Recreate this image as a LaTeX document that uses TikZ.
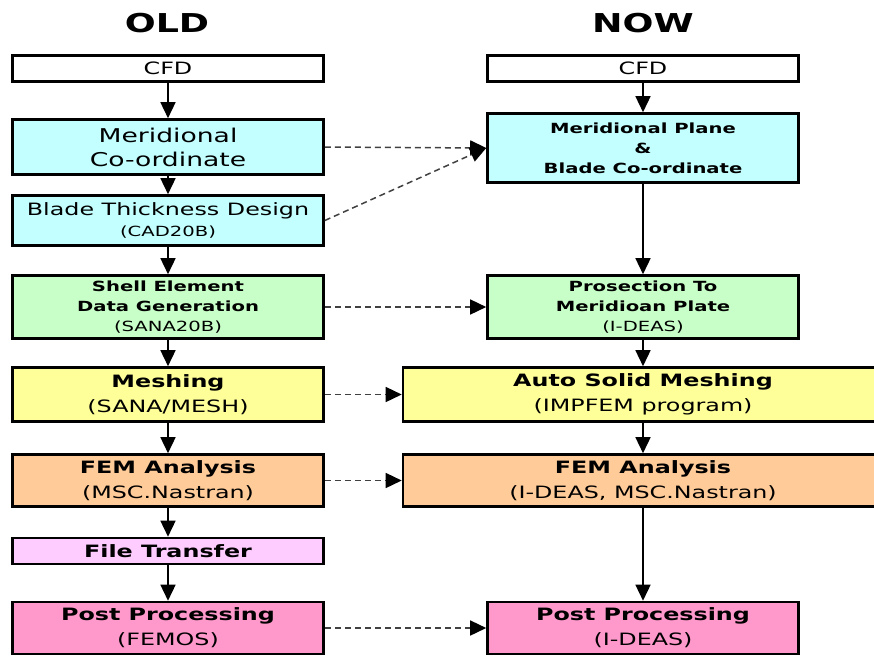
\documentclass[tikz,border=0pt]{standalone}
\usepackage{fontspec}
\setmainfont{DejaVu Sans}[FakeStretch=1.4]
\usepackage{xcolor}
\usetikzlibrary{arrows.meta}
\definecolor{cyanfill}{HTML}{C4FFFF}
\definecolor{greenfill}{HTML}{C8FFC8}
\definecolor{yellowfill}{HTML}{FFFF99}
\definecolor{orangefill}{HTML}{FFCC99}
\definecolor{lilacfill}{HTML}{FFCCFF}
\definecolor{pinkfill}{HTML}{FF99CC}
\begin{document}
\begin{tikzpicture}[x=1pt,y=-1pt]
\useasboundingbox (0,0) rectangle (874,656);
\clip (0,0) rectangle (874,656);
\tikzstyle{box}=[draw,line width=2.6pt,inner sep=0pt,align=center,minimum width=311pt];
\tikzstyle{widebox}=[box,minimum width=480pt];
\tikzstyle{title}=[font=\fontsize{26}{30}\selectfont\bfseries];
\tikzstyle{small}=[font=\fontsize{14}{20}\selectfont];
\tikzstyle{large}=[font=\fontsize{17}{25}\selectfont];
\tikzstyle{arr}=[line width=1.5pt,-{Triangle[length=16pt,width=15pt,color=black]}];
\tikzstyle{dasharr}=[arr,draw=black!75,dash pattern=on 6pt off 4pt];
% titles
\node(old) at (167,23) [title] {OLD};
\node(now) at (643,23) [title] {NOW};
% old column
\node(cfdL) at (168,68.5) [box,minimum height=26pt,font=\fontsize{17}{20}\selectfont] {CFD};
\node(merL) at (168,147) [box,fill=cyanfill,minimum height=55pt,font=\fontsize{19}{24}\selectfont] {Meridional\\Co-ordinate};
\node(bladeL) at (168,220.5) [box,fill=cyanfill,minimum height=50pt,font=\fontsize{17}{21}\selectfont] {Blade Thickness Design\\{\fontsize{14}{20}\selectfont(CAD20B)}};
\node(shellL) at (168,307) [box,fill=greenfill,minimum height=63pt,small] {\textbf{Shell Element}\\\textbf{Data Generation}\\(SANA20B)};
\node(meshL) at (168,394.5) [box,fill=yellowfill,minimum height=54pt,large] {\textbf{Meshing}\\(SANA/MESH)};
\node(femL) at (168,480.5) [box,fill=orangefill,minimum height=52pt,large] {\textbf{FEM Analysis}\\(MSC.Nastran)};
\node(fileL) at (168,551) [box,fill=lilacfill,minimum height=26pt,large] {\textbf{File Transfer}};
\node(postL) at (168,628) [box,fill=pinkfill,minimum height=52pt,large] {\textbf{Post Processing}\\(FEMOS)};
% now column
\node(cfdR) at (643,68.5) [box,minimum height=26pt,font=\fontsize{17}{20}\selectfont] {CFD};
\node(merR) at (643,148) [box,fill=cyanfill,minimum height=69pt,font=\fontsize{14}{20}\selectfont\bfseries] {Meridional Plane\\\&\\Blade Co-ordinate};
\node(proR) at (643,307) [box,fill=greenfill,minimum height=63pt,small] {\textbf{Prosection To}\\\textbf{Meridioan Plate}\\(I-DEAS)};
\node(meshR) at (643,394.5) [widebox,fill=yellowfill,minimum height=54pt,large] {\textbf{Auto Solid Meshing}\\(IMPFEM program)};
\node(femR) at (643,480.5) [widebox,fill=orangefill,minimum height=52pt,large] {\textbf{FEM Analysis}\\(I-DEAS, MSC.Nastran)};
\node(postR) at (643,628) [box,fill=pinkfill,minimum height=52pt,large] {\textbf{Post Processing}\\(I-DEAS)};
% flow
\path[arr] (cfdL) edge (merL) (merL) edge (bladeL) (bladeL) edge (shellL) (shellL) edge (meshL) (meshL) edge (femL) (femL) edge (fileL) (fileL) edge (postL);
\path[arr] (cfdR) edge (merR) (merR) edge (proR) (proR) edge (meshR) (meshR) edge (femR) (femR) edge (postR);
% old to now
\draw[dasharr] (merL.east)--(merR.west);
\draw[dasharr] (bladeL.east)--(merR.west);
\draw[dasharr] (shellL)--(proR);
\draw[dasharr] (meshL)--(meshR);
\draw[dasharr] (femL)--(femR);
\draw[dasharr] (postL)--(postR);
\end{tikzpicture}
\end{document}
